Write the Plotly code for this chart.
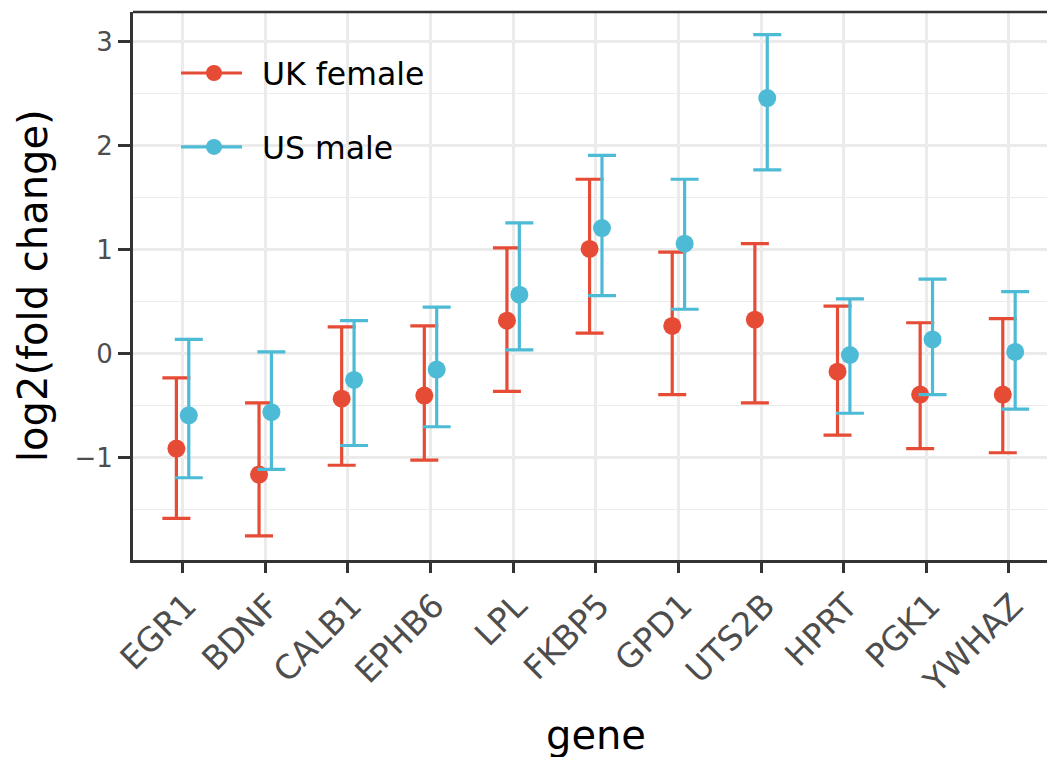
import plotly.graph_objects as go

genes = ["EGR1", "BDNF", "CALB1", "EPHB6", "LPL", "FKBP5", "GPD1", "UTS2B", "HPRT", "PGK1", "YWHAZ"]

uk_mean = [-0.91, -1.16, -0.43, -0.40, 0.32, 1.01, 0.27, 0.33, -0.17, -0.39, -0.39]
uk_low = [-1.58, -1.75, -1.07, -1.02, -0.36, 0.20, -0.39, -0.47, -0.78, -0.91, -0.95]
uk_high = [-0.23, -0.47, 0.26, 0.27, 1.02, 1.68, 0.98, 1.06, 0.46, 0.30, 0.34]

us_mean = [-0.59, -0.56, -0.25, -0.15, 0.57, 1.21, 1.06, 2.46, -0.01, 0.14, 0.02]
us_low = [-1.19, -1.11, -0.88, -0.70, 0.04, 0.56, 0.43, 1.77, -0.57, -0.39, -0.53]
us_high = [0.14, 0.02, 0.32, 0.45, 1.26, 1.91, 1.68, 3.07, 0.53, 0.72, 0.60]

y_ticks = [-1, 0, 1, 2, 3]
y_ticktext = ["\u22121", "0", "1", "2", "3"]

RED = "#E64B35"
BLUE = "#4DBBD5"
FONT = "DejaVu Sans"
DODGE = 0.075

W, H = 1047, 757
ML, MR, MT, MB = 133, 0, 12, 197
PW, PH = W - ML - MR, H - MT - MB

pos = list(range(1, len(genes) + 1))

fig = go.Figure()


def add_series(name, mean, low, high, color, offset):
    fig.add_trace(go.Scatter(
        x=[p + offset for p in pos], y=mean, mode="markers",
        marker=dict(color=color, size=18),
        error_y=dict(type="data", symmetric=False,
                     array=[h - m for h, m in zip(high, mean)],
                     arrayminus=[m - l for m, l in zip(mean, low)],
                     color=color, thickness=3.2, width=14),
        showlegend=False, name=name,
    ))


add_series("UK female", uk_mean, uk_low, uk_high, RED, -DODGE)
add_series("US male", us_mean, us_low, us_high, BLUE, DODGE)

# legend entries
for name, color in [("UK female", RED), ("US male", BLUE)]:
    fig.add_trace(go.Scatter(
        x=[None], y=[None], mode="lines+markers", name=name, legendgroup=name,
        line=dict(color=color, width=3.2), marker=dict(color=color, size=18),
    ))

# white legend background box (covers grid, below data)
fig.add_shape(type="rect", xref="paper", yref="paper",
              x0=(173 - ML) / PW, x1=(427 - ML) / PW,
              y0=(H - MB - 187) / PH, y1=1,
              fillcolor="white", line=dict(width=0), layer="between")
# reference line at 0
fig.add_shape(type="line", xref="paper", x0=0, x1=1, yref="y", y0=0, y1=0,
              line=dict(color="black", width=1.5, dash="4px,4px"), layer="between")
# top border
fig.add_shape(type="line", xref="paper", x0=0, x1=1, yref="paper", y0=1, y1=1,
              line=dict(color="#333333", width=2.5), layer="above")

fig.update_layout(
    template="none",
    width=W, height=H,
    margin=dict(l=ML, r=MR, t=MT, b=MB, pad=0),
    paper_bgcolor="white", plot_bgcolor="white",
    font=dict(family=FONT, color="black"),
    legend=dict(x=(166 - ML) / PW, y=(H - MB - 46) / PH, xanchor="left", yanchor="top",
                bgcolor="rgba(0,0,0,0)",
                font=dict(size=31.5, family=FONT, color="black"),
                tracegroupgap=30, itemwidth=86, borderwidth=0),
    annotations=[
        dict(text="gene", xref="x", x=6.0, yref="paper", y=(H - MB - 735) / PH,
             xanchor="center", yanchor="middle", showarrow=False,
             font=dict(size=40, family=FONT, color="black")),
        dict(text="log2(fold change)", xref="paper", x=(33 - ML) / PW,
             yref="paper", y=0.5, xanchor="center", yanchor="middle",
             textangle=-90, showarrow=False,
             font=dict(size=40, family=FONT, color="black")),
    ],
)

fig.update_xaxes(
    range=[0.4, 11.46], tickmode="array", tickvals=pos, ticktext=genes,
    tickangle=-45, tickfont=dict(size=33, family=FONT, color="#4D4D4D"),
    ticklabelshift=4,
    showgrid=True, gridcolor="#EBEBEB", gridwidth=2.5,
    showline=True, linecolor="#333333", linewidth=3,
    ticks="outside", ticklen=10, tickwidth=3, tickcolor="#333333",
    zeroline=False, automargin=False,
)
fig.update_yaxes(
    range=[-1.981, 3.288], tickmode="array", tickvals=y_ticks, ticktext=y_ticktext,
    tickfont=dict(size=26, family=FONT, color="#4D4D4D"),
    showgrid=True, gridcolor="#EBEBEB", gridwidth=2.5,
    minor=dict(dtick=0.5, tick0=0, showgrid=True, gridcolor="#EBEBEB", gridwidth=1.3),
    showline=True, linecolor="#333333", linewidth=3,
    ticks="outside", ticklen=12, tickwidth=3, tickcolor="#333333",
    zeroline=False, automargin=False,
)

post = """
document.documentElement.style.margin='0';
document.body.style.margin='0';
var gd = document.getElementById('{plot_id}');
function fixLegend(){
  gd.querySelectorAll('.legend path.js-line').forEach(function(p){
    p.setAttribute('d','M15,0h61');
  });
}
fixLegend();
if (gd.on) { gd.on('plotly_afterplot', fixLegend); }
"""

fig.write_html("out.html", post_script=post, config={"displayModeBar": False})
